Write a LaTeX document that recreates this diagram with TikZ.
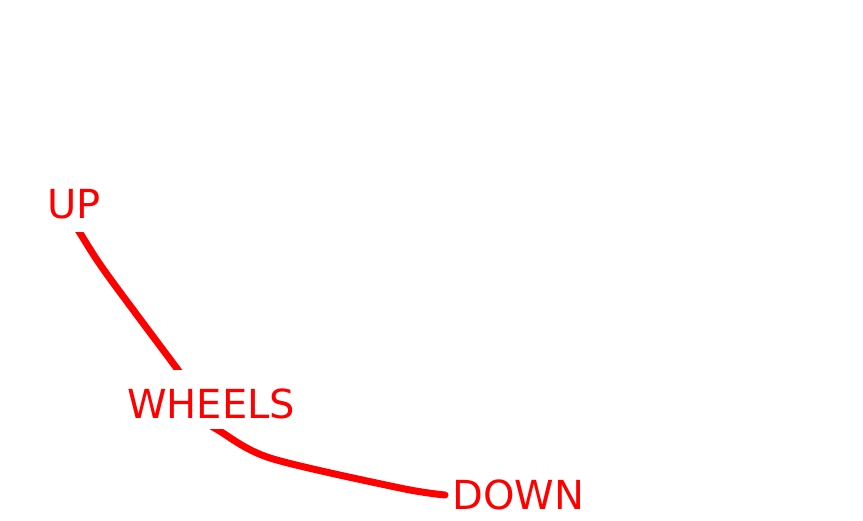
\documentclass[tikz,border=0pt]{standalone}
\usepackage{fontspec}
\setmainfont{DejaVu Sans}
\begin{document}
\begin{tikzpicture}[x=1pt,y=-1pt,
  lbl/.style={anchor=base west,inner sep=0pt,text=red,font=\fontsize{40}{40}\selectfont},
  conn/.style={draw=red,line width=7pt}]
\useasboundingbox (0,0) rectangle (863,521);
\node[lbl] (up) at (47,219) {UP};
\node[lbl] (wheels) at (127,419) {WHEELS};
\node[lbl] (down) at (452,510) {DOWN};
\coordinate (a0) at (74,223);
\coordinate (a1) at (80,233);
\coordinate (a2) at (106,273);
\coordinate (a4) at (178,370);
\coordinate (a5) at (185,380);
\coordinate (b0) at (202,420);
\coordinate (b1) at (218,430);
\coordinate (b3) at (270,458);
\coordinate (b5) at (400,488);
\coordinate (b6) at (445,495);
\begin{scope}
\clip (0,233) rectangle (863,370);
\draw[conn] plot[smooth,tension=0.5] coordinates {(a0) (a1) (a2) (a4) (a5)};
\end{scope}
\begin{scope}
\clip (0,430) rectangle (863,521);
\draw[conn,line cap=round] plot[smooth,tension=0.5] coordinates {(b0) (b1) (b3) (b5) (b6)};
\end{scope}
\end{tikzpicture}
\end{document}
